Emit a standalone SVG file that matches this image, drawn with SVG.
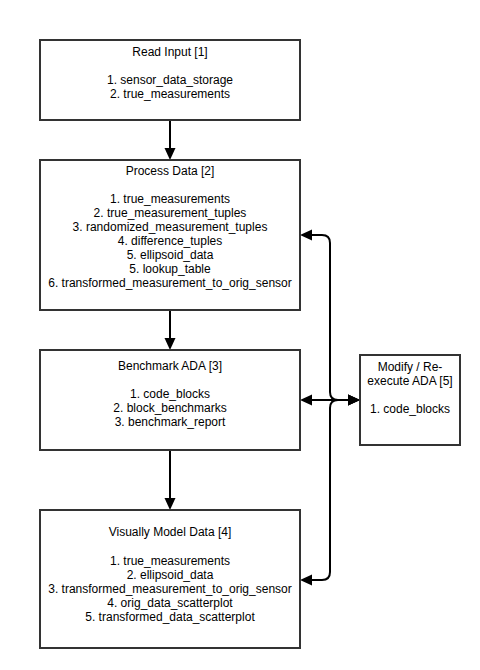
<svg xmlns="http://www.w3.org/2000/svg" width="480" height="670" viewBox="0 0 480 670">
<style>
.box{fill:#fff;stroke:#333;stroke-width:2}
.t{font-family:"Liberation Sans",Arial,sans-serif;font-size:12px;fill:#000;text-anchor:middle}
.c{fill:none;stroke:#000;stroke-width:2}
</style>
<defs>
<marker id="a" markerUnits="userSpaceOnUse" markerWidth="12" markerHeight="12" refX="0" refY="5.5" orient="auto-start-reverse" viewBox="0 0 12 11">
<path d="M0,0 L12,5.5 L0,11 z" fill="#000"/>
</marker>
</defs>
<rect width="480" height="670" fill="#fff"/>
<g id="connectors">
<path class="c" d="M170,120 L170,148" marker-end="url(#a)"/>
<path class="c" d="M170,310 L170,338" marker-end="url(#a)"/>
<path class="c" d="M170,450 L170,498" marker-end="url(#a)"/>
<path class="c" d="M312,235 L322,235 Q330,235 330,243 L330,392 Q330,400 338,400 L348,400" marker-start="url(#a)" marker-end="url(#a)"/>
<path class="c" d="M312,400 L348,400" marker-start="url(#a)" marker-end="url(#a)"/>
<path class="c" d="M312,580 L322,580 Q330,580 330,572 L330,408 Q330,400 338,400 L348,400" marker-start="url(#a)" marker-end="url(#a)"/>
</g>
<g id="node1">
<rect class="box" x="40" y="40" width="260" height="80"/>
<text class="t" x="170" y="56">Read Input [1]</text>
<text class="t" x="170" y="84">1. sensor_data_storage</text>
<text class="t" x="170" y="98">2. true_measurements</text>
</g>
<g id="node2">
<rect class="box" x="40" y="160" width="260" height="150"/>
<text class="t" x="170" y="175">Process Data [2]</text>
<text class="t" x="170" y="203">1. true_measurements</text>
<text class="t" x="170" y="217">2. true_measurement_tuples</text>
<text class="t" x="170" y="231">3. randomized_measurement_tuples</text>
<text class="t" x="170" y="245">4. difference_tuples</text>
<text class="t" x="170" y="259">5. ellipsoid_data</text>
<text class="t" x="170" y="273">5. lookup_table</text>
<text class="t" x="170" y="287">6. transformed_measurement_to_orig_sensor</text>
</g>
<g id="node3">
<rect class="box" x="40" y="350" width="260" height="100"/>
<text class="t" x="170" y="370">Benchmark ADA [3]</text>
<text class="t" x="170" y="398">1. code_blocks</text>
<text class="t" x="170" y="412">2. block_benchmarks</text>
<text class="t" x="170" y="426">3. benchmark_report</text>
</g>
<g id="node4">
<rect class="box" x="40" y="510" width="260" height="138"/>
<text class="t" x="170" y="536">Visually Model Data [4]</text>
<text class="t" x="170" y="565">1. true_measurements</text>
<text class="t" x="170" y="579">2. ellipsoid_data</text>
<text class="t" x="170" y="593">3. transformed_measurement_to_orig_sensor</text>
<text class="t" x="170" y="607">4. orig_data_scatterplot</text>
<text class="t" x="170" y="621">5. transformed_data_scatterplot</text>
</g>
<g id="node5">
<rect class="box" x="360" y="355" width="100" height="90"/>
<text class="t" x="410" y="371">Modify / Re-</text>
<text class="t" x="410" y="385">execute ADA [5]</text>
<text class="t" x="410" y="413">1. code_blocks</text>
</g>
</svg>
